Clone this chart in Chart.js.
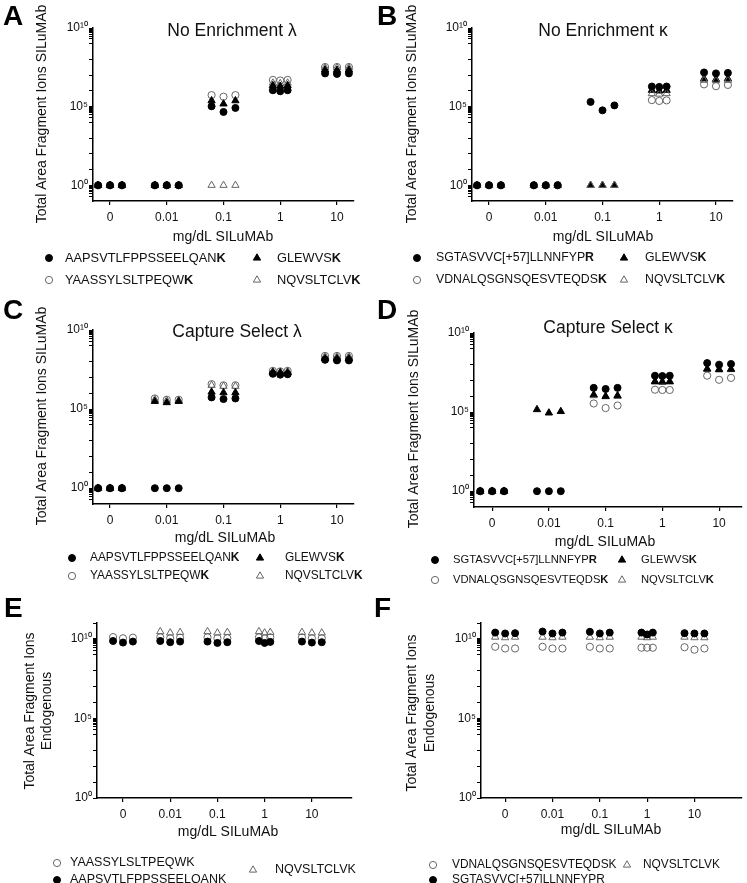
<!DOCTYPE html>
<html>
<head>
<meta charset="utf-8">
<script src="https://cdn.jsdelivr.net/npm/chart.js@4.4.1/dist/chart.umd.min.js"></script>
<style>
  html, body { margin: 0; padding: 0; background: #fff; }
  #wrap { position: relative; width: 747px; height: 883px; }
  #wrap canvas { position: absolute; left: 0; top: 0; }
</style>
</head>
<body>
<div id="wrap">
  <canvas id="cA" width="747" height="883"></canvas>
  <canvas id="cB" width="747" height="883"></canvas>
  <canvas id="cC" width="747" height="883"></canvas>
  <canvas id="cD" width="747" height="883"></canvas>
  <canvas id="cE" width="747" height="883"></canvas>
  <canvas id="cF" width="747" height="883"></canvas>
</div>
<script>
// x categories
const doses = ['0', '0.01', '0.1', '1', '10'];

// peptide names
const pepAAPS = 'AAPSVTLFPPSSEELQANK';
const pepGLEW = 'GLEWVSK';
const pepYAAS = 'YAASSYLSLTPEQWK';
const pepNQVS = 'NQVSLTCLVK';
const pepSGTA = 'SGTASVVC[+57]LLNNFYPR';
const pepVDNA = 'VDNALQSGNSQESVTEQDSK';

// triplicates per dose (0, 0.01, 0.1, 1, 10); null = not plotted
// A: No Enrichment lambda
const aAAPS = [[1, 1, 1], [1, 1, 1], [1.05e5, 4.6e4, 8.3e4], [1.1e6, 9.5e5, 1.1e6], [1.3e7, 1.2e7, 1.3e7]];
const aGLEW = [[1, 1, 1], [1, 1, 1], [2.4e5, 1.5e5, 2.4e5], [2.2e6, 2.0e6, 2.2e6], [2.2e7, 2.1e7, 2.2e7]];
const aYAAS = [[1, 1, 1], [1, 1, 1], [5.4e5, 4.3e5, 5.4e5], [5.0e6, 4.6e6, 5.0e6], [3.3e7, 3.3e7, 3.3e7]];
const aNQVS = [[1, 1, 1], [1, 1, 1], [1, 1, 1], [3.2e6, 3.0e6, 3.2e6], [3.0e7, 3.0e7, 3.0e7]];

// B: No Enrichment kappa
const bSGTA = [[1, 1, 1], [1, 1, 1], [2.0e5, 5.8e4, 1.2e5], [1.9e6, 1.8e6, 1.9e6], [1.5e7, 1.3e7, 1.4e7]];
const bGLEW = [[1, 1, 1], [1, 1, 1], [1, 1, 1], [1.1e6, 1.0e6, 1.1e6], [6.0e6, 5.5e6, 6.0e6]];
const bVDNA = [[1, 1, 1], [1, 1, 1], [null, null, null], [2.6e5, 2.3e5, 2.5e5], [2.6e6, 2.0e6, 2.4e6]];
const bNQVS = [[1, 1, 1], [1, 1, 1], [1, 1, 1], [6.8e5, 6.3e5, 6.8e5], [4.8e6, 4.6e6, 4.8e6]];

// C: Capture Select lambda
const cAAPS = [[1, 1, 1], [1, 1, 1], [5.5e5, 4.3e5, 4.7e5], [1.7e7, 1.5e7, 1.6e7], [1.3e8, 1.2e8, 1.2e8]];
const cGLEW = [[1, 1, 1], [3.1e5, 2.6e5, 3.1e5], [1.2e6, 1.1e6, 1.1e6], [2.1e7, 2.0e7, 2.0e7], [1.6e8, 1.6e8, 1.6e8]];
const cYAAS = [[1, 1, 1], [4.7e5, 3.9e5, 3.9e5], [3.8e6, 3.2e6, 3.2e6], [2.6e7, 2.4e7, 2.6e7], [2.3e8, 2.3e8, 2.3e8]];
const cNQVS = [[1, 1, 1], [4.0e5, 3.5e5, 3.5e5], [3.2e6, 2.8e6, 2.8e6], [2.4e7, 2.2e7, 2.4e7], [2.1e8, 2.1e8, 2.1e8]];

// D: Capture Select kappa
const dSGTA = [[1, 1, 1], [1, 1, 1], [3.4e6, 2.9e6, 3.4e6], [2.0e7, 1.9e7, 2.0e7], [1.26e8, 1.0e8, 1.1e8]];
const dGLEW = [[1, 1, 1], [1.45e5, 8.9e4, 1.1e5], [1.26e6, 1.0e6, 1.1e6], [8.7e6, 8.3e6, 8.7e6], [5.4e7, 5.0e7, 5.2e7]];
const dVDNA = [[1, 1, 1], [null, null, null], [3.5e5, 1.8e5, 2.6e5], [2.6e6, 2.5e6, 2.5e6], [2.0e7, 1.1e7, 1.45e7]];
const dNQVS = [[1, 1, 1], [null, null, null], [1.1e6, 9.5e5, 1.0e6], [8.0e6, 7.6e6, 8.0e6], [5.0e7, 4.7e7, 4.9e7]];

// E: endogenous lambda
const eYAAS = [[1.3e10, 1.1e10, 1.2e10], [1.25e10, 1.1e10, 1.2e10], [1.25e10, 1.1e10, 1.1e10], [1.25e10, 1.1e10, 1.25e10], [1.25e10, 1.1e10, 1.1e10]];
const eAAPS = [[7.4e9, 5.9e9, 6.8e9], [7.4e9, 6.2e9, 6.8e9], [6.8e9, 5.6e9, 6.2e9], [7.4e9, 5.6e9, 6.5e9], [6.8e9, 5.9e9, 6.2e9]];
const eNQVS = [[null, null, null], [2.9e10, 2.4e10, 2.6e10], [2.9e10, 2.4e10, 2.6e10], [2.9e10, 2.4e10, 2.6e10], [2.6e10, 2.4e10, 2.4e10]];

// F: endogenous kappa
const fVDNA = [[3.2e9, 2.5e9, 2.5e9], [3.2e9, 2.5e9, 2.5e9], [3.2e9, 2.5e9, 2.5e9], [2.8e9, 2.8e9, 2.8e9], [3.0e9, 2.1e9, 2.5e9]];
const fNQVS = [[1.3e10, 1.2e10, 1.3e10], [1.3e10, 1.2e10, 1.3e10], [1.3e10, 1.2e10, 1.3e10], [1.3e10, 1.2e10, 1.3e10], [1.3e10, 1.2e10, 1.2e10]];
const fSGTA = [[2.5e10, 2.2e10, 2.3e10], [2.9e10, 2.2e10, 2.5e10], [2.8e10, 2.2e10, 2.5e10], [2.5e10, 1.9e10, 2.5e10], [2.3e10, 2.2e10, 2.2e10]];

const FONT = "'Liberation Sans', Arial, Helvetica, sans-serif";
const TXT = '#111';
const Y_AXIS_W = 40, X_AXIS_H = 30;
const SUP = { 0: '\u2070', 5: '\u2075', 10: '\u00b9\u2070' };

const marks = {
  fc: { pointStyle: 'circle', radius: 3.5, fill: '#000', line: '#000' },
  ft: { pointStyle: 'triangle', radius: 4.2, fill: '#000', line: '#000' },
  oc: { pointStyle: 'circle', radius: 3.6, fill: null, line: '#666' },
  ot: { pointStyle: 'triangle', radius: 4.2, fill: null, line: '#666' }
};

const ySub = 'Total Area Fragment Ions SILuMAb';
const spreadTop = [0.21, 0.21, 0.21, 0.13, 0.21];
const spreadBot = [0.21, 0.21, 0.21, 0.12, 0.21];

// series listed top-most first
const panels = [
  { id: 'cA', letter: 'A', lx: 3, ly: 25, area: { l: 93, r: 354, t: 28, b: 201 },
    xMin: -0.3, xMax: 4.3, yMin: 0.1, yMax: 1e10, spread: spreadTop, minor: [0, 5, 10],
    title: 'No Enrichment \u03bb', tx: 232, ty: 31, xt: [223, 237], yt: [ySub], ytx: [42], yty: 114,
    bold: true, lf: 12.8,
    series: [
      { data: aAAPS, name: pepAAPS, m: 'fc', at: [49, 258, 65] },
      { data: aGLEW, name: pepGLEW, m: 'ft', at: [257, 258, 277] },
      { data: aYAAS, name: pepYAAS, m: 'oc', at: [49, 280, 65] },
      { data: aNQVS, name: pepNQVS, m: 'ot', at: [257, 280, 277] }
    ] },
  { id: 'cB', letter: 'B', lx: 377, ly: 25, area: { l: 472, r: 733, t: 28, b: 201 },
    xMin: -0.3, xMax: 4.3, yMin: 0.1, yMax: 1e10, spread: spreadTop, minor: [0, 5, 10],
    title: 'No Enrichment \u03ba', tx: 603, ty: 31, xt: [603, 237], yt: [ySub], ytx: [412], yty: 114,
    bold: true, lf: 12.3,
    series: [
      { data: bSGTA, name: pepSGTA, m: 'fc', at: [417, 258, 436] },
      { data: bNQVS, name: pepNQVS, m: 'ot', at: [624, 280, 645] },
      { data: bGLEW, name: pepGLEW, m: 'ft', at: [624, 258, 645] },
      { data: bVDNA, name: pepVDNA, m: 'oc', at: [417, 280, 436] }
    ] },
  { id: 'cC', letter: 'C', lx: 3, ly: 319, area: { l: 93, r: 354, t: 330, b: 504 },
    xMin: -0.3, xMax: 4.3, yMin: 0.1, yMax: 1e10, spread: spreadTop, minor: [0, 5, 10],
    title: 'Capture Select \u03bb', tx: 237, ty: 332, xt: [225, 538], yt: [ySub], ytx: [42], yty: 416,
    bold: true, lf: 11.9,
    series: [
      { data: cAAPS, name: pepAAPS, m: 'fc', at: [72, 558, 90] },
      { data: cGLEW, name: pepGLEW, m: 'ft', at: [260, 558, 285] },
      { data: cYAAS, name: pepYAAS, m: 'oc', at: [72, 576, 90] },
      { data: cNQVS, name: pepNQVS, m: 'ot', at: [260, 576, 285] }
    ] },
  { id: 'cD', letter: 'D', lx: 377, ly: 319, area: { l: 474, r: 742, t: 333, b: 507 },
    xMin: -0.32, xMax: 4.4, yMin: 0.1, yMax: 1e10, spread: spreadTop, minor: [0, 5, 10],
    title: 'Capture Select \u03ba', tx: 608, ty: 328, xt: [605, 542], yt: [ySub], ytx: [414], yty: 419,
    bold: true, lf: 11.2,
    series: [
      { data: dSGTA, name: pepSGTA, m: 'fc', at: [435, 560, 453] },
      { data: dGLEW, name: pepGLEW, m: 'ft', at: [622, 560, 641] },
      { data: dVDNA, name: pepVDNA, m: 'oc', at: [435, 580, 453] },
      { data: dNQVS, name: pepNQVS, m: 'ot', at: [622, 580, 641] }
    ] },
  { id: 'cE', letter: 'E', lx: 4, ly: 617, area: { l: 97, r: 352, t: 623, b: 798 },
    xMin: -0.55, xMax: 4.85, yMin: 1, yMax: 1e11, spread: spreadBot, minor: [5, 10],
    title: null, xt: [228, 832], yt: ['Total Area Fragment Ions', 'Endogenous'], ytx: [30, 47], yty: 711,
    bold: false, lf: 12.5,
    series: [
      { data: eNQVS, name: pepNQVS, m: 'ot', at: [253, 870, 275] },
      { data: eAAPS, name: pepAAPS, m: 'fc', at: [57, 880, 70] },
      { data: eYAAS, name: pepYAAS, m: 'oc', at: [57, 863, 70] }
    ] },
  { id: 'cF', letter: 'F', lx: 374, ly: 617, area: { l: 481, r: 742, t: 623, b: 798 },
    xMin: -0.51, xMax: 5.0, yMin: 1, yMax: 1e11, spread: spreadBot, minor: [5, 10],
    title: null, xt: [611, 830], yt: ['Total Area Fragment Ions', 'Endogenous'], ytx: [412, 430], yty: 713,
    bold: false, lf: 11.9,
    series: [
      { data: fSGTA, name: pepSGTA, m: 'fc', at: [433, 880, 452] },
      { data: fNQVS, name: pepNQVS, m: 'ot', at: [627, 865, 643] },
      { data: fVDNA, name: pepVDNA, m: 'oc', at: [433, 865, 452] }
    ] }
];

function toPoints(reps, spread) {
  const out = [];
  reps.forEach((vals, ci) => vals.forEach((v, ri) => {
    if (v !== null) out.push({ x: ci + (ri - 1) * spread[ci], y: v });
  }));
  return out;
}

function logTicks(maxExp, minor) {
  const t = [];
  for (let e = 0; e <= maxExp; e++) t.push(Math.pow(10, e));
  minor.forEach(e => { for (let m = 2; m <= 9; m++) t.push(m * Math.pow(10, e - 1)); });
  return t.sort((a, b) => a - b);
}

function drawMark(ctx, st, x, y) {
  const r = st.radius;
  ctx.beginPath();
  if (st.pointStyle === 'circle') {
    ctx.arc(x, y, r, 0, Math.PI * 2);
  } else {
    ctx.moveTo(x, y - r);
    ctx.lineTo(x + r * Math.sin(2 * Math.PI / 3), y - r * Math.cos(2 * Math.PI / 3));
    ctx.lineTo(x + r * Math.sin(4 * Math.PI / 3), y - r * Math.cos(4 * Math.PI / 3));
    ctx.closePath();
  }
  if (st.fill) { ctx.fillStyle = st.fill; ctx.fill(); }
  ctx.lineWidth = 1;
  ctx.strokeStyle = st.line;
  ctx.stroke();
}

function decor(p) {
  return {
    id: 'decor' + p.letter,
    afterDraw(chart) {
      const ctx = chart.ctx;
      ctx.save();
      ctx.fillStyle = '#000';
      ctx.textAlign = 'left';
      ctx.textBaseline = 'alphabetic';
      ctx.font = 'bold 28px ' + FONT;
      ctx.fillText(p.letter, p.lx, p.ly);

      ctx.fillStyle = TXT;
      ctx.textAlign = 'center';
      ctx.textBaseline = 'middle';
      if (p.title) {
        ctx.font = '17.5px ' + FONT;
        ctx.fillText(p.title, p.tx, p.ty);
      }
      ctx.font = '14px ' + FONT;
      ctx.fillText('mg/dL SILuMAb', p.xt[0], p.xt[1]);
      p.yt.forEach((line, i) => {
        ctx.save();
        ctx.translate(p.ytx[i], p.yty);
        ctx.rotate(-Math.PI / 2);
        ctx.fillText(line, 0, 0);
        ctx.restore();
      });

      // legend
      ctx.textAlign = 'left';
      p.series.forEach(s => {
        const [mx, my, tx] = s.at;
        drawMark(ctx, marks[s.m], mx, my);
        ctx.fillStyle = TXT;
        ctx.font = p.lf + 'px ' + FONT;
        if (p.bold) {
          const head = s.name.slice(0, -1);
          ctx.fillText(head, tx, my);
          const w = ctx.measureText(head).width;
          ctx.font = 'bold ' + p.lf + 'px ' + FONT;
          ctx.fillText(s.name.slice(-1), tx + w, my);
        } else {
          ctx.fillText(s.name, tx, my);
        }
      });
      ctx.restore();
    }
  };
}

panels.forEach(p => {
  const yTicks = logTicks(Math.round(Math.log10(p.yMax)), p.minor);
  new Chart(document.getElementById(p.id), {
    type: 'scatter',
    data: {
      datasets: p.series.map(s => {
        const st = marks[s.m];
        return {
          label: s.name,
          data: toPoints(s.data, p.spread),
          pointStyle: st.pointStyle,
          pointRadius: st.radius,
          pointHoverRadius: st.radius,
          pointBackgroundColor: st.fill || 'rgba(0,0,0,0)',
          pointBorderColor: st.line,
          pointBorderWidth: 1,
          showLine: false,
          clip: false
        };
      })
    },
    options: {
      responsive: false,
      animation: false,
      events: [],
      layout: {
        padding: {
          left: p.area.l - Y_AXIS_W,
          top: p.area.t,
          right: 747 - p.area.r,
          bottom: 883 - p.area.b - X_AXIS_H
        }
      },
      plugins: { legend: { display: false }, tooltip: { enabled: false } },
      scales: {
        x: {
          type: 'linear',
          min: p.xMin,
          max: p.xMax,
          afterBuildTicks: s => { s.ticks = doses.map((d, i) => ({ value: i })); },
          afterFit: s => { s.height = X_AXIS_H; },
          ticks: {
            callback: v => doses[v],
            autoSkip: false,
            maxRotation: 0,
            padding: 5,
            color: TXT,
            font: { family: FONT, size: 12 }
          },
          grid: { drawOnChartArea: false, drawTicks: true, tickLength: 4, color: '#000', lineWidth: 1.2 },
          border: { color: '#000', width: 1.5 }
        },
        y: {
          type: 'logarithmic',
          min: p.yMin,
          max: p.yMax,
          afterBuildTicks: s => { s.ticks = yTicks.map(v => ({ value: v })); },
          afterFit: s => { s.width = Y_AXIS_W; },
          ticks: {
            callback: v => {
              const e = Math.log10(v);
              const k = Math.round(e);
              return Math.abs(e - k) < 1e-6 && SUP[k] !== undefined ? '10' + SUP[k] : '';
            },
            autoSkip: false,
            padding: 1,
            color: TXT,
            font: { family: FONT, size: 12 }
          },
          grid: { drawOnChartArea: false, drawTicks: true, tickLength: 4, color: '#000', lineWidth: 1 },
          border: { color: '#000', width: 1.5 }
        }
      }
    },
    plugins: [decor(p)]
  });
});
</script>
</body>
</html>
